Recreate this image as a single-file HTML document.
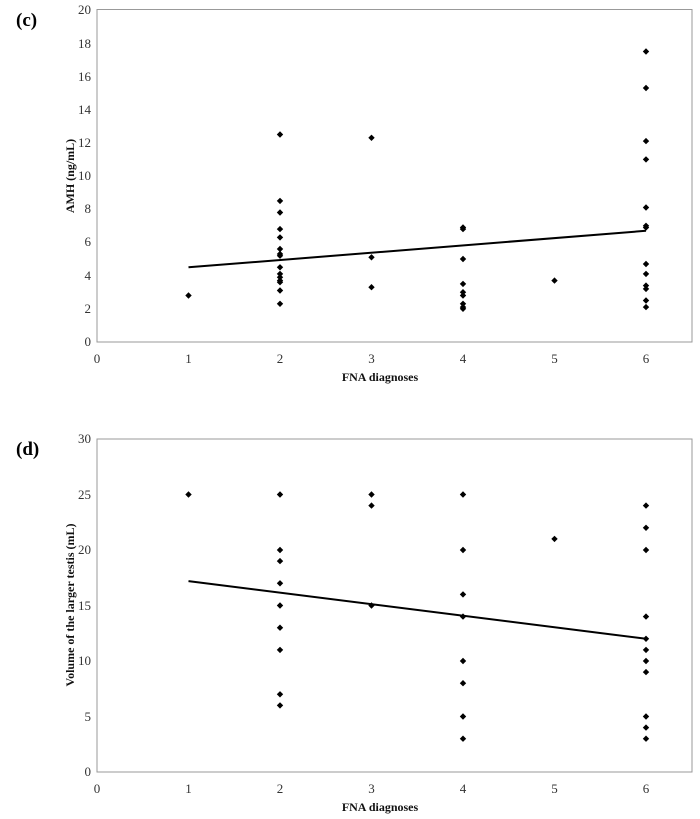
<!DOCTYPE html>
<html><head><meta charset="utf-8"><style>
html,body{margin:0;padding:0;background:#fff;}
svg{display:block;font-family:"Liberation Serif",serif;}
.t{font-size:13px;fill:#333;}
.b{font-size:12px;font-weight:bold;fill:#111;}
</style></head><body>
<svg width="700" height="819" viewBox="0 0 700 819">
<defs><path id="d" d="M0,-3.2 L3.2,0 L0,3.2 L-3.2,0Z" fill="#000"/></defs>
<text x="16" y="26" font-size="19" font-weight="bold">(c)</text>
<rect x="97" y="9.5" width="595" height="332.5" fill="none" stroke="#999" stroke-width="1"/>
<g class="t" text-anchor="end">
<text x="91" y="346">0</text><text x="91" y="313">2</text><text x="91" y="280">4</text><text x="91" y="246">6</text><text x="91" y="213">8</text><text x="91" y="180">10</text><text x="91" y="147">12</text><text x="91" y="114">14</text><text x="91" y="81">16</text><text x="91" y="48">18</text><text x="91" y="14">20</text>
</g>
<g class="t" text-anchor="middle">
<text x="97" y="363">0</text><text x="188.5" y="363">1</text><text x="280" y="363">2</text><text x="371.5" y="363">3</text><text x="463" y="363">4</text><text x="554.5" y="363">5</text><text x="646" y="363">6</text>
</g>
<text class="b" x="380" y="381" text-anchor="middle">FNA diagnoses</text>
<text class="b" transform="translate(74,176) rotate(-90)" text-anchor="middle">AMH (ng/mL)</text>
<line x1="188.5" y1="267.3" x2="646" y2="230.8" stroke="#000" stroke-width="2"/>
<g>
<use href="#d" x="188.5" y="295.5"/>
<use href="#d" x="280" y="134.5"/><use href="#d" x="280" y="200.9"/><use href="#d" x="280" y="212.5"/><use href="#d" x="280" y="229.1"/><use href="#d" x="280" y="237.4"/><use href="#d" x="280" y="249"/><use href="#d" x="280" y="254"/><use href="#d" x="280" y="255.7"/><use href="#d" x="280" y="267.3"/><use href="#d" x="280" y="273.9"/><use href="#d" x="280" y="277.3"/><use href="#d" x="280" y="280.6"/><use href="#d" x="280" y="282.2"/><use href="#d" x="280" y="290.5"/><use href="#d" x="280" y="303.8"/>
<use href="#d" x="371.5" y="137.8"/><use href="#d" x="371.5" y="257.3"/><use href="#d" x="371.5" y="287.2"/>
<use href="#d" x="463" y="227.5"/><use href="#d" x="463" y="229.1"/><use href="#d" x="463" y="259"/><use href="#d" x="463" y="283.9"/><use href="#d" x="463" y="292.2"/><use href="#d" x="463" y="295.5"/><use href="#d" x="463" y="303.8"/><use href="#d" x="463" y="307.1"/><use href="#d" x="463" y="308.8"/>
<use href="#d" x="554.5" y="280.6"/>
<use href="#d" x="646" y="51.5"/><use href="#d" x="646" y="88"/><use href="#d" x="646" y="141.1"/><use href="#d" x="646" y="159.4"/><use href="#d" x="646" y="207.5"/><use href="#d" x="646" y="225.8"/><use href="#d" x="646" y="227.5"/><use href="#d" x="646" y="264"/><use href="#d" x="646" y="273.9"/><use href="#d" x="646" y="285.6"/><use href="#d" x="646" y="288.9"/><use href="#d" x="646" y="300.5"/><use href="#d" x="646" y="307.1"/>
</g>

<text x="16" y="455" font-size="19" font-weight="bold">(d)</text>
<rect x="97" y="439" width="595" height="333" fill="none" stroke="#999" stroke-width="1"/>
<g class="t" text-anchor="end">
<text x="91" y="776">0</text><text x="91" y="721">5</text><text x="91" y="665">10</text><text x="91" y="610">15</text><text x="91" y="554">20</text><text x="91" y="499">25</text><text x="91" y="443">30</text>
</g>
<g class="t" text-anchor="middle">
<text x="97" y="793">0</text><text x="188.5" y="793">1</text><text x="280" y="793">2</text><text x="371.5" y="793">3</text><text x="463" y="793">4</text><text x="554.5" y="793">5</text><text x="646" y="793">6</text>
</g>
<text class="b" x="380" y="811" text-anchor="middle">FNA diagnoses</text>
<text class="b" transform="translate(74,605) rotate(-90)" text-anchor="middle">Volume of the larger testis (mL)</text>
<line x1="188.5" y1="581.1" x2="646" y2="638.8" stroke="#000" stroke-width="2"/>
<g>
<use href="#d" x="188.5" y="494.5"/>
<use href="#d" x="280" y="494.5"/><use href="#d" x="280" y="550"/><use href="#d" x="280" y="561.1"/><use href="#d" x="280" y="583.3"/><use href="#d" x="280" y="605.5"/><use href="#d" x="280" y="627.7"/><use href="#d" x="280" y="649.9"/><use href="#d" x="280" y="694.3"/><use href="#d" x="280" y="705.4"/>
<use href="#d" x="371.5" y="494.5"/><use href="#d" x="371.5" y="505.6"/><use href="#d" x="371.5" y="605.5"/>
<use href="#d" x="463" y="494.5"/><use href="#d" x="463" y="550"/><use href="#d" x="463" y="594.4"/><use href="#d" x="463" y="616.6"/><use href="#d" x="463" y="661"/><use href="#d" x="463" y="683.2"/><use href="#d" x="463" y="716.5"/><use href="#d" x="463" y="738.7"/>
<use href="#d" x="554.5" y="538.9"/>
<use href="#d" x="646" y="505.6"/><use href="#d" x="646" y="527.8"/><use href="#d" x="646" y="550"/><use href="#d" x="646" y="616.6"/><use href="#d" x="646" y="638.8"/><use href="#d" x="646" y="649.9"/><use href="#d" x="646" y="661"/><use href="#d" x="646" y="672.1"/><use href="#d" x="646" y="716.5"/><use href="#d" x="646" y="727.6"/><use href="#d" x="646" y="738.7"/>
</g>
</svg>
</body></html>
